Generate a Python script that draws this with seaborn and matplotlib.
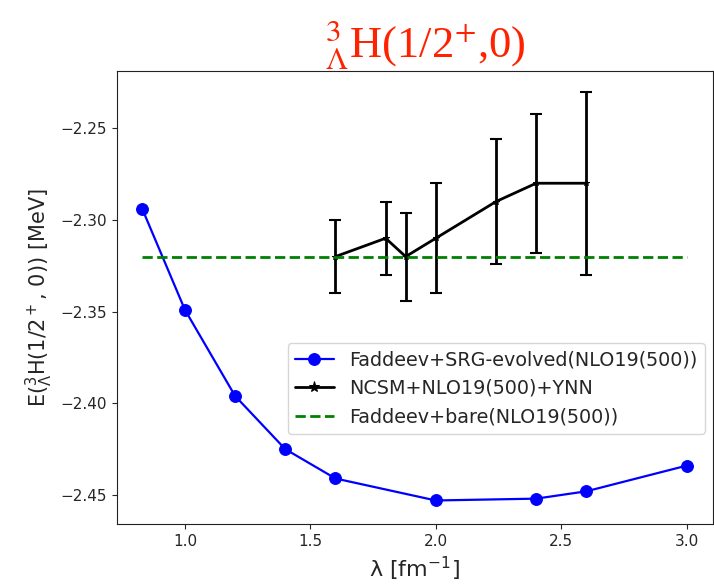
import numpy as np
import pandas as pd
import matplotlib
matplotlib.use("Agg")
import matplotlib.pyplot as plt
import seaborn as sns

# Faddeev + SRG-evolved interaction
srg_lam = [0.83, 1.0, 1.2, 1.4, 1.6, 2.0, 2.4, 2.6, 3.0]
srg_E = [-2.294, -2.349, -2.396, -2.425, -2.441, -2.453, -2.452, -2.448, -2.434]

# NCSM with error bars
ncsm_lam = [1.6, 1.8, 1.88, 2.0, 2.24, 2.4, 2.6]
ncsm_E = [-2.32, -2.31, -2.32, -2.31, -2.29, -2.28, -2.28]
ncsm_err = [0.02, 0.02, 0.024, 0.03, 0.034, 0.038, 0.05]

# Faddeev with bare interaction
bare_lam = [0.83, 3.0]
bare_E = [-2.32, -2.32]

sns.set_style("ticks")
plt.rcParams['font.family'] = ['DejaVu Sans']
plt.rcParams['xtick.major.size'] = 3.5
plt.rcParams['ytick.major.size'] = 3.5
plt.rcParams['axes.edgecolor'] = '#222222'

df_srg = pd.DataFrame({'lam': srg_lam, 'E': srg_E})
df_ncsm = pd.DataFrame({'lam': ncsm_lam, 'E': ncsm_E, 'err': ncsm_err})
df_bare = pd.DataFrame({'lam': bare_lam, 'E': bare_E})

fig = plt.figure(figsize=(7.14, 5.84), dpi=100)
ax = fig.add_axes([0.1634, 0.1022, 0.8352, 0.7762])

sns.lineplot(data=df_srg, x='lam', y='E', color='b', marker='o', markersize=8.5,
             markeredgecolor='b', linewidth=1.6, label='Faddeev+SRG-evolved(NLO19(500))', ax=ax)
sns.lineplot(data=df_ncsm, x='lam', y='E', color='k', marker='*', markersize=4,
             markeredgecolor='k', linewidth=2, label='NCSM+NLO19(500)+YNN', ax=ax)
ax.errorbar(df_ncsm['lam'], df_ncsm['E'], yerr=df_ncsm['err'], fmt='none',
            ecolor='k', elinewidth=2, capsize=4, capthick=1.5)
sns.lineplot(data=df_bare, x='lam', y='E', color='g', linestyle='--', linewidth=2,
             label='Faddeev+bare(NLO19(500))', ax=ax)

ax.set_xlim(0.728, 3.105)
ax.set_ylim(-2.466, -2.2188)
ax.set_xticks([1.0, 1.5, 2.0, 2.5, 3.0])
ax.set_yticks([-2.45, -2.40, -2.35, -2.30, -2.25])
ax.tick_params(labelsize=11)

ax.set_xlabel(r'λ [fm$^{-1}$]', fontsize=16)
ax.set_ylabel(r'E($^3_\Lambda$H(1/2$^+$, 0)) [MeV]', fontsize=15)
ax.set_title(r'$^{3}_{\Lambda}$H(1/2$^{+}$,0)', fontsize=32, color='#ff2200',
             family='Liberation Serif', math_fontfamily='stix', pad=8, x=0.518)

leg = ax.legend(loc='upper right', bbox_to_anchor=(0.9866, 0.4006), borderaxespad=0,
                fontsize=13.8, frameon=True)
leg.legend_handles[1].set_markersize(8)

fig.savefig('out.png', dpi=100)
